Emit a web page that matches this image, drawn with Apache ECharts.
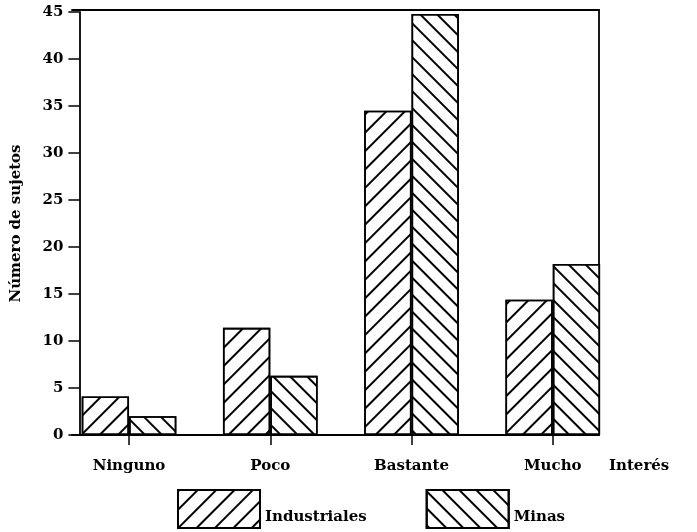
<!DOCTYPE html>
<html>
<head>
<meta charset="utf-8">
<script src="https://cdn.jsdelivr.net/npm/echarts@6/dist/echarts.min.js"></script>
<style>
html,body{margin:0;padding:0;background:#fff;}
#chart{width:697px;height:532px;}
</style>
</head>
<body>
<div id="chart"></div>
<script>
var categories = ['Ninguno', 'Poco', 'Bastante', 'Mucho'];
var industriales = [4.1, 11.4, 34.5, 14.4];
var minas = [2.0, 6.3, 44.8, 18.2];
var yTicks = [0, 5, 10, 15, 20, 25, 30, 35, 40, 45];
var seriesNames = ['Industriales', 'Minas'];

var FONT = 'DejaVu Serif';
var chart = echarts.init(document.getElementById('chart'), null, {renderer: 'canvas'});

function hatch(rot, gap) {
  return {
    symbol: 'rect',
    color: '#000',
    backgroundColor: null,
    dashArrayX: [1, 0],
    dashArrayY: [1.1, gap],
    rotation: rot,
    symbolSize: 1
  };
}

var frameLine = {show: true, onZero: false, lineStyle: {color: '#000', width: 1.8}};

var option = {
  backgroundColor: '#fff',
  animation: false,
  textStyle: {fontFamily: FONT, fontWeight: 'bold', color: '#000'},
  grid: [
    {left: 58.4, width: 565, top: 12, bottom: 97, containLabel: false},
    {left: 72, width: 527, top: 10, bottom: 97, containLabel: false}
  ],
  legend: {
    left: 177, top: 489, padding: 0,
    icon: 'rect',
    itemWidth: 82, itemHeight: 38, itemGap: 59,
    data: seriesNames,
    formatter: '{a|{name}}',
    textStyle: {
      fontFamily: FONT, fontWeight: 'bold', fontSize: 15, color: '#000',
      rich: {a: {fontFamily: FONT, fontWeight: 'bold', fontSize: 15, color: '#000', padding: [16, 0, 0, 0]}}
    }
  },
  xAxis: [
    {
      type: 'category', gridIndex: 0, data: categories,
      axisLine: {show: false},
      axisTick: {show: true, alignWithLabel: true, length: 10, lineStyle: {color: '#000', width: 1.5}},
      axisLabel: {margin: 24, fontFamily: FONT, fontWeight: 'bold', fontSize: 15, color: '#000'},
      splitLine: {show: false}
    },
    {
      type: 'value', gridIndex: 1, position: 'bottom', min: 0, max: 1,
      axisLine: frameLine,
      axisTick: {show: false}, axisLabel: {show: false}, splitLine: {show: false},
      name: 'Interés', nameLocation: 'end', nameGap: 10,
      nameTextStyle: {fontFamily: FONT, fontWeight: 'bold', fontSize: 15, color: '#000', verticalAlign: 'top', padding: [24, 0, 0, 0]}
    },
    {
      type: 'value', gridIndex: 1, position: 'top', min: 0, max: 1,
      axisLine: frameLine,
      axisTick: {show: false}, axisLabel: {show: false}, splitLine: {show: false}
    }
  ],
  yAxis: [
    {
      type: 'value', gridIndex: 0, min: 0, max: 45, interval: 5, offset: -21,
      axisLine: {show: true, onZero: false, lineStyle: {color: '#000', width: 1.8}},
      axisTick: {show: true, length: 11, lineStyle: {color: '#000', width: 1.5}},
      axisLabel: {margin: 16, fontFamily: FONT, fontWeight: 'bold', fontSize: 15, color: '#000',
        formatter: function (v) { return yTicks.indexOf(v) >= 0 ? String(v) : ''; }},
      splitLine: {show: false},
      name: 'Número de sujetos', nameLocation: 'middle', nameGap: 56, nameRotate: 90,
      nameTextStyle: {fontFamily: FONT, fontWeight: 'bold', fontSize: 15, color: '#000'}
    },
    {
      type: 'value', gridIndex: 1, show: false, min: 0, max: 1,
      axisLine: {show: false, onZero: false}
    },
    {
      type: 'value', gridIndex: 1, position: 'right', min: 0, max: 1,
      axisLine: frameLine,
      axisTick: {show: false}, axisLabel: {show: false}, splitLine: {show: false}
    }
  ],
  series: [
    {
      name: seriesNames[0], type: 'bar', xAxisIndex: 0, yAxisIndex: 0,
      data: industriales, barGap: '0%', barCategoryGap: '33%',
      itemStyle: {color: '#fff', borderColor: '#000', borderWidth: 1.6, decal: hatch(-Math.PI / 4, 10.5)}
    },
    {
      name: seriesNames[1], type: 'bar', xAxisIndex: 0, yAxisIndex: 0,
      data: minas, barGap: '0%', barCategoryGap: '33%',
      itemStyle: {color: '#fff', borderColor: '#000', borderWidth: 1.6, decal: hatch(Math.PI / 4, 9.5)}
    }
  ]
};
chart.setOption(option);
</script>
</body>
</html>
